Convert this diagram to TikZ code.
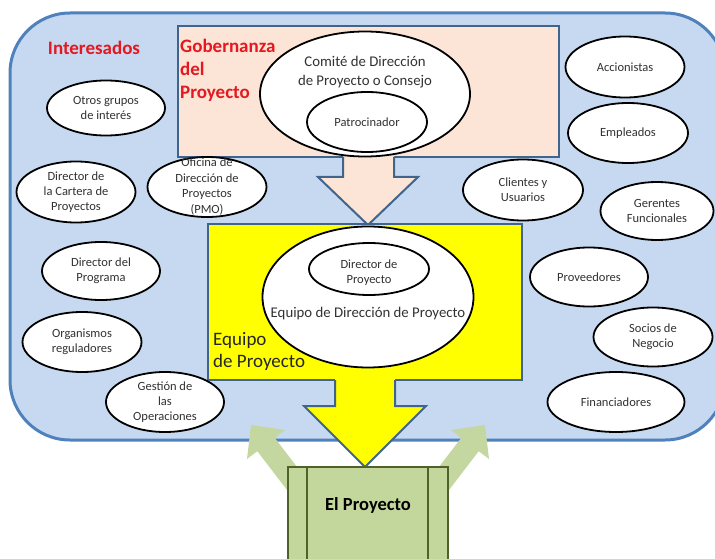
\documentclass[tikz,border=0pt]{standalone}
\usepackage{fontspec}
\setmainfont{Carlito}
\usetikzlibrary{shapes.geometric}
\definecolor{outerfill}{RGB}{198,217,240}
\definecolor{outerline}{RGB}{79,129,189}
\definecolor{boxline}{RGB}{65,100,140}
\definecolor{peach}{RGB}{252,229,214}
\definecolor{ylw}{RGB}{255,255,0}
\definecolor{grn}{RGB}{195,214,155}
\definecolor{grnline}{RGB}{79,98,40}
\definecolor{grnarrow}{RGB}{196,215,160}
\definecolor{redtxt}{RGB}{228,24,32}
\definecolor{txtgray}{RGB}{50,50,50}
\begin{document}
\begin{tikzpicture}[x=1pt,y=-1pt,
  ell/.style={ellipse, draw=black, line width=1.8pt, fill=white, inner sep=0pt},
  etxt/.style={align=center, text=txtgray, inner sep=0pt, font=\fontsize{12.5}{14.8}\selectfont},
  btxt/.style={align=center, text=txtgray, inner sep=0pt, font=\fontsize{14.8}{19}\selectfont},
  redhead/.style={text=redtxt, inner sep=0pt, font=\bfseries\fontsize{19}{23}\selectfont},
  boxstyle/.style={draw=boxline, line width=2pt, inner sep=0pt},
]
\useasboundingbox (0,0) rectangle (715,559);

% outer stakeholders area
\draw[fill=outerfill, draw=outerline, line width=3pt, rounded corners=60pt] (10,13) rectangle (725,440);

% green arrows from the project
\fill[grnarrow] (251,425) -- (285,430) -- (274.7,437.8) -- (317.2,493.3) -- (299.8,506.7) -- (257.3,451.2) -- (247,459) -- cycle;
\fill[grnarrow] (485,425) -- (451,430) -- (461.3,437.8) -- (418.8,493.3) -- (436.2,506.7) -- (478.7,451.2) -- (489,459) -- cycle;

% governance box and arrow
\node[boxstyle, fill=peach, minimum width=381pt, minimum height=131pt] (gov) at (368.5,91.5) {};
\fill[peach] (343,150) -- (343,177) -- (318,177) -- (368,225) -- (418,177) -- (394,177) -- (394,150) -- cycle;
\draw[draw=boxline, line width=2pt, line join=miter] (343,157) -- (343,177) -- (318,177) -- (368,225) -- (418,177) -- (394,177) -- (394,157);

% project team box and arrow
\node[boxstyle, fill=ylw, minimum width=314pt, minimum height=156pt] (team) at (365,302) {};
\fill[ylw] (335,378) -- (335,406) -- (304,406) -- (365,467) -- (426,406) -- (395,406) -- (395,378) -- cycle;
\draw[draw=boxline, line width=2pt, line join=miter] (335,380) -- (335,406) -- (304,406) -- (365,467) -- (426,406) -- (395,406) -- (395,380);

% the project
\node[draw=grnline, line width=2pt, fill=grn, minimum width=160pt, minimum height=110pt, inner sep=0pt] (proj) at (368,522) {};
\draw[draw=grnline, line width=2pt] (307,467) -- (307,580);
\draw[draw=grnline, line width=2pt] (428,467) -- (428,580);
\node[inner sep=0pt, font=\bfseries\fontsize{18.5}{22}\selectfont] (projt) at (368,505) {El Proyecto};

% headings
\node[redhead] (inter) at (94,48) {Interesados};
\node[redhead, align=left, anchor=west] (gobt) at (180,70) {Gobernanza\\del\\Proyecto};
\node[align=left, anchor=west, inner sep=0pt, text={rgb,255:red,38;green,38;blue,38}, font=\fontsize{19}{22}\selectfont] (teamt) at (213,351) {Equipo\\de Proyecto};

% governance ellipses
\node[ell, minimum width=210pt, minimum height=125pt] (comite) at (365,94) {};
\node[btxt] (comitet) at (365,72.5) {Comité de Dirección\\de Proyecto o Consejo};
\node[ell, minimum width=120pt, minimum height=60pt] (patro) at (367,122) {};
\node[etxt] (patrot) at (367,122) {Patrocinador};

% team ellipses
\node[ell, minimum width=211pt, minimum height=141pt] (equipo) at (368,297) {};
\node[btxt] (equipot) at (368,314) {Equipo de Dirección de Proyecto};
\node[ell, minimum width=120pt, minimum height=52pt] (director) at (369,269) {};
\node[etxt] (directort) at (369,273) {Director de\\Proyecto};

% left stakeholders
\node[ell, minimum width=118pt, minimum height=55pt] (otros) at (106,108) {};
\node[etxt] (otrost) at (otros) {Otros grupos\\de interés};
\node[ell, minimum width=119pt, minimum height=61pt] (cartera) at (76,192) {};
\node[etxt] (carterat) at (cartera) {Director de\\la Cartera de\\Proyectos};
\node[ell, minimum width=119pt, minimum height=60pt] (pmo) at (207,187) {};
\node[etxt, font=\fontsize{12.5}{15.5}\selectfont] (pmot) at (207,186.5) {Oficina de\\Dirección de\\Proyectos\\(PMO)};
\node[ell, minimum width=118pt, minimum height=58pt] (programa) at (101,271) {};
\node[etxt] (programat) at (programa) {Director del\\Programa};
\node[ell, minimum width=119pt, minimum height=60pt] (organismos) at (82,342) {};
\node[etxt] (organismost) at (organismos) {Organismos\\reguladores};
\node[ell, minimum width=118pt, minimum height=60pt] (gestion) at (165,402) {};
\node[etxt] (gestiont) at (gestion) {Gestión de\\las\\Operaciones};

% right stakeholders
\node[ell, minimum width=119pt, minimum height=61pt] (accion) at (625,67) {};
\node[etxt] (acciont) at (accion) {Accionistas};
\node[ell, minimum width=120pt, minimum height=60pt] (emple) at (628,133) {};
\node[etxt] (emplet) at (emple) {Empleados};
\node[ell, minimum width=120pt, minimum height=61pt] (clientes) at (523,190) {};
\node[etxt] (clientest) at (clientes) {Clientes y\\Usuarios};
\node[ell, minimum width=113pt, minimum height=58pt] (gerentes) at (657,211) {};
\node[etxt] (gerentest) at (gerentes) {Gerentes\\Funcionales};
\node[ell, minimum width=118pt, minimum height=59pt] (prov) at (589,277) {};
\node[etxt] (provt) at (prov) {Proveedores};
\node[ell, minimum width=119pt, minimum height=59pt] (socios) at (653,337) {};
\node[etxt] (sociost) at (socios) {Socios de\\Negocio};
\node[ell, minimum width=137pt, minimum height=60pt] (finan) at (616,402) {};
\node[etxt] (finant) at (finan) {Financiadores};
\end{tikzpicture}
\end{document}
